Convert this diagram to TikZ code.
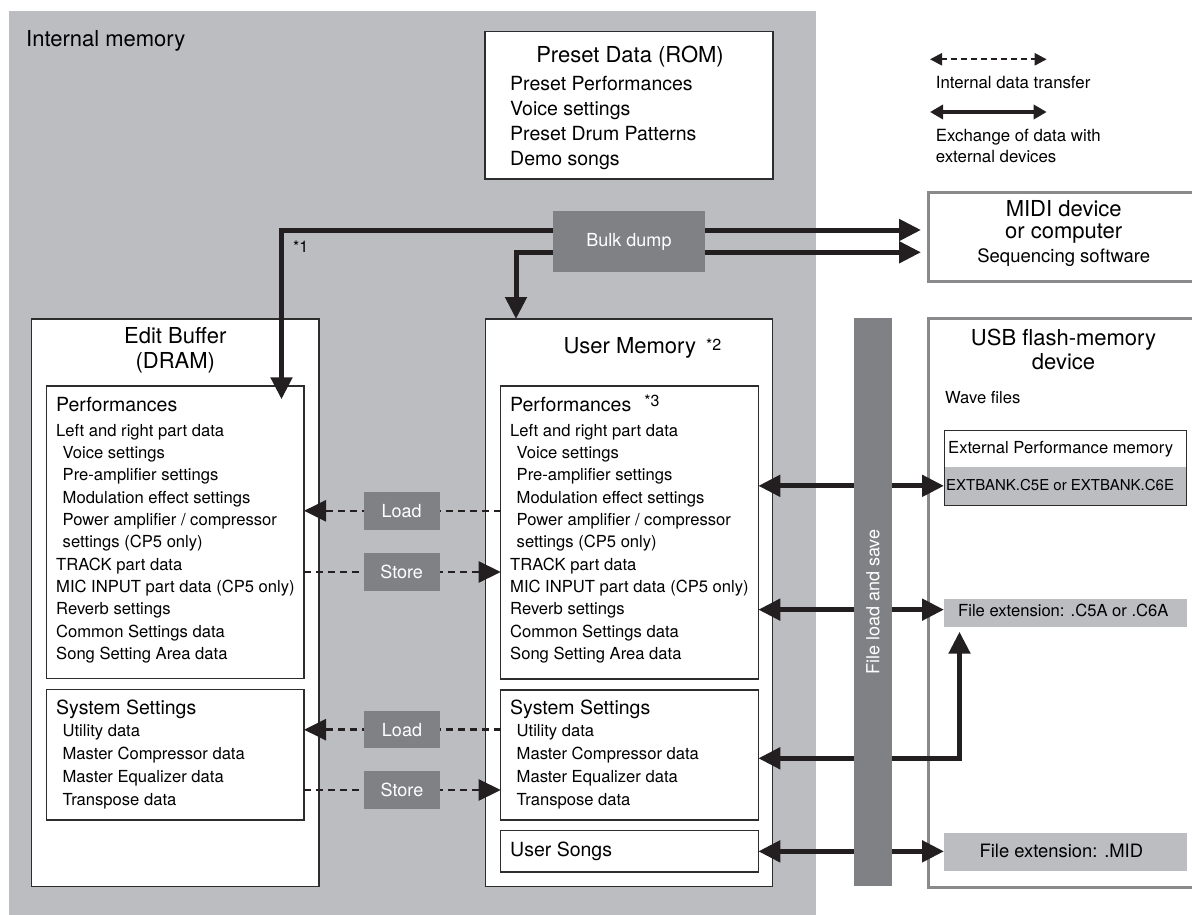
\documentclass[tikz,border=0pt]{standalone}
\usepackage{fontspec}
\setmainfont{TeX Gyre Heros}
\usepackage{tikz}
\usetikzlibrary{positioning, arrows.meta}
\definecolor{memgray}{RGB}{188,189,193}
\definecolor{btngray}{RGB}{128,129,133}
\definecolor{extline}{RGB}{138,138,141}
\definecolor{boxline}{RGB}{45,45,45}
\definecolor{arrowblack}{RGB}{35,31,32}

\newcommand{\headsize}{\fontsize{22}{25}\selectfont}
\newcommand{\presetsize}{\fontsize{19.5}{25.2}\selectfont}
\newcommand{\secsize}{\fontsize{19.5}{24}\selectfont}
\newcommand{\itemsize}{\fontsize{16.6}{22.33}\selectfont}
\newcommand{\btnsize}{\fontsize{18}{20}\selectfont}
\newcommand{\notesize}{\fontsize{16}{18}\selectfont}
\newcommand{\perfitems}{Left and right part data\\
  \hspace*{6.5pt}Voice settings\\
  \hspace*{6.5pt}Pre-amplifier settings\\
  \hspace*{6.5pt}Modulation effect settings\\
  \hspace*{6.5pt}Power amplifier / compressor\\
  \hspace*{6.5pt}settings (CP5 only)\\
  TRACK part data\\
  MIC INPUT part data (CP5 only)\\
  Reverb settings\\
  Common Settings data\\
  Song Setting Area data}
\newcommand{\sysitems}{Utility data\\Master Compressor data\\Master Equalizer data\\Transpose data}

\begin{document}
\begin{tikzpicture}[
  x=1pt, y=-1pt,
  membox/.style={rectangle, draw=boxline, line width=1.4pt, fill=white, anchor=north west, inner sep=0pt, outer sep=0pt},
  extdev/.style={rectangle, draw=extline, line width=2.8pt, fill=white, anchor=north west, inner sep=0pt, outer sep=0pt},
  filebox/.style={rectangle, fill=memgray, anchor=north west, inner sep=0pt, outer sep=0pt, minimum width=243pt},
  btn/.style={rectangle, fill=btngray, text=white, font=\btnsize, inner sep=0pt, minimum width=76pt, minimum height=37.5pt},
  heading/.style={font=\headsize, inner sep=0pt},
  sechead/.style={font=\secsize, inner sep=0pt, anchor=base west},
  itemlist/.style={font=\itemsize, align=left, anchor=north west, inner sep=0pt},
  label/.style={font=\itemsize, inner sep=0pt, anchor=base west},
  xfer/.style={draw=arrowblack, line width=5pt, {Triangle[length=22pt,width=21pt]}-{Triangle[length=22pt,width=21pt]}},
  intxfer/.style={draw=arrowblack, line width=2.6pt, dash pattern=on 7pt off 5pt, -{Triangle[length=22pt,width=21pt]}},
  legdash/.style={draw=arrowblack, line width=2.4pt, dash pattern=on 6pt off 4pt, {Triangle[length=12pt,width=12pt]}-{Triangle[length=12pt,width=12pt]}},
  legsolid/.style={draw=arrowblack, line width=4.5pt, {Triangle[length=13pt,width=14pt]}-{Triangle[length=13pt,width=14pt]}}
]
\useasboundingbox (0,0) rectangle (1192,915);
\clip (0,0) rectangle (1192,915);

% internal memory
\fill[memgray] (9,11) rectangle (816,915);
\node[heading, anchor=base west] (intmem) at (26,46.7) {Internal memory};

% preset data
\node[membox, minimum width=288pt, minimum height=147.3pt] (preset) at (485,31.7) {};
\node[heading, anchor=base] (presettitle) at (630,62.3) {Preset Data (ROM)};
\node[itemlist, font=\presetsize] (presetlist) at (510,75.8) {Preset Performances\\Voice settings\\Preset Drum Patterns\\Demo songs};

% legend
\coordinate (legdashL) at (930,59.3);
\coordinate (legdashR) at (1046.7,59.3);
\coordinate (legsolidL) at (930,112);
\coordinate (legsolidR) at (1046.7,112);
\draw[legdash] (legdashL) -- (legdashR);
\draw[legsolid] (legsolidL) -- (legsolidR);
\node[label, font=\fontsize{16.8}{21.5}\selectfont] (legtxt1) at (935.7,88.3) {Internal data transfer};
\node[itemlist, font=\fontsize{16.8}{21.5}\selectfont] (legtxt2) at (935.7,128.8) {Exchange of data with\\external devices};

% external devices
\node[extdev, minimum width=270.6pt, minimum height=89pt] (midi) at (928.4,192.7) {};
\node[heading, align=center, anchor=north, font=\fontsize{22}{22.3}\selectfont] (miditxt) at (1063.7,200.2) {MIDI device\\or computer};
\node[anchor=base, inner sep=0pt, font=\fontsize{18.5}{20}\selectfont] (seqsw) at (1063.7,262.7) {Sequencing software};

\node[extdev, minimum width=270.6pt, minimum height=569pt] (usb) at (928.4,318.3) {};
\node[heading, align=center, anchor=north, font=\fontsize{22}{23.3}\selectfont] (usbtitle) at (1063.5,329.2) {USB flash-memory\\device};
\node[label] (wave) at (945,403.3) {Wave files};
\node[filebox, minimum width=242pt, minimum height=38.3pt] (extbank) at (944,466.7) {};
\node[rectangle, draw=boxline, line width=1.4pt, anchor=north west, inner sep=0pt, minimum width=242pt, minimum height=75pt] (extperf) at (944,430) {};
\node[label] (extperftxt) at (948,453.3) {External Performance memory};
\node[label, font=\fontsize{15}{18}\selectfont] (extbanktxt) at (946,490) {EXTBANK.C5E or EXTBANK.C6E};
\node[filebox, minimum height=28.3pt] (c5a) at (944,599) {};
\node[label] (c5atxt) at (958,616) {File extension: .C5A or .C6A};
\node[filebox, minimum height=37.4pt] (mid) at (944,833.3) {};
\node[label, font=\fontsize{18.4}{20}\selectfont] (midtxt) at (979.4,857) {File extension: .MID};

% edit buffer
\node[membox, minimum width=287.5pt, minimum height=567.7pt] (edit) at (31.5,319) {};
\node[heading, align=center, anchor=north] (edittitle) at (175.3,327.5) {Edit Buffer\\(DRAM)};
\node[membox, minimum width=257.5pt, minimum height=292.5pt] (edperf) at (46.5,386) {};
\node[sechead] (edperfhd) at (56,411.7) {Performances};
\node[itemlist] (edperflist) at (56,423.9) {\perfitems};
\node[membox, minimum width=257.5pt, minimum height=130.5pt] (edsys) at (46.5,689.5) {};
\node[sechead] (edsyshd) at (56,714) {System Settings};
\node[itemlist, font=\fontsize{16.6}{22.7}\selectfont] (edsyslist) at (62.4,724.6) {\sysitems};

% user memory
\node[membox, minimum width=287pt, minimum height=567.7pt] (usr) at (485.7,319) {};
\node[heading, anchor=base west] (usrtitle) at (563.3,353.3) {User Memory\hspace{10pt}\raisebox{3pt}{\notesize *2}};
\node[membox, minimum width=257.6pt, minimum height=293pt] (usperf) at (500.7,386) {};
\node[sechead] (usperfhd) at (510,411.7) {Performances\hspace{13pt}\raisebox{5.5pt}{\notesize *3}};
\node[itemlist] (usperflist) at (510,423.9) {\perfitems};
\node[membox, minimum width=257.6pt, minimum height=130pt] (ussys) at (500.7,690) {};
\node[sechead] (ussyshd) at (510,714) {System Settings};
\node[itemlist, font=\fontsize{16.6}{22.7}\selectfont] (ussyslist) at (516.5,724.6) {\sysitems};
\node[membox, minimum width=257.6pt, minimum height=41.3pt] (ussongs) at (500.7,830.7) {};
\node[sechead] (ussongshd) at (510,856.7) {User Songs};

% bulk dump
\draw[xfer, shorten >=7.4pt] ([xshift=-22.5pt,yshift=-13.3pt]edperf.north east) |- ([yshift=7.2pt]midi.west);
\draw[xfer, shorten >=7.4pt] ([xshift=30.3pt]usr.north west) |- ([yshift=-15.1pt]midi.west);
\node[btn, minimum width=152pt, minimum height=61pt] (bulk) at (629,241.5) {Bulk dump};
\node[anchor=base west, inner sep=0pt, font=\notesize] (note1) at (293,252) {*1};

% load and store
\coordinate (load1c) at (401.7,510.8);
\coordinate (store1c) at (401.7,572);
\coordinate (load2c) at (402,729.7);
\coordinate (store2c) at (402,790);
\draw[intxfer] (usperf.west |- load1c) -- (edperf.east |- load1c);
\draw[intxfer] (edperf.east |- store1c) -- (usperf.west |- store1c);
\draw[intxfer] (ussys.west |- load2c) -- (edsys.east |- load2c);
\draw[intxfer] (edsys.east |- store2c) -- (ussys.west |- store2c);
\node[btn] (load1) at (load1c) {Load};
\node[btn] (store1) at (store1c) {Store};
\node[btn] (load2) at (load2c) {Load};
\node[btn] (store2) at (store2c) {Store};

% file load and save
\coordinate (c5aend) at ([yshift=3.5pt]c5a.west);
\draw[xfer] (usperf.east |- extbank.west) -- (extbank.west);
\draw[xfer] (usperf.east |- c5aend) -- (c5aend);
\draw[xfer, shorten >=4.4pt] ([yshift=-3.3pt]ussys.east) -| ([xshift=15.5pt]c5a.south west);
\draw[xfer] (ussongs.east) -- (ussongs.east -| mid.west);
\node[btn, rotate=90, minimum width=567.5pt, minimum height=38pt] (bar) at (873,602.1) {File load and save};
\end{tikzpicture}
\end{document}
